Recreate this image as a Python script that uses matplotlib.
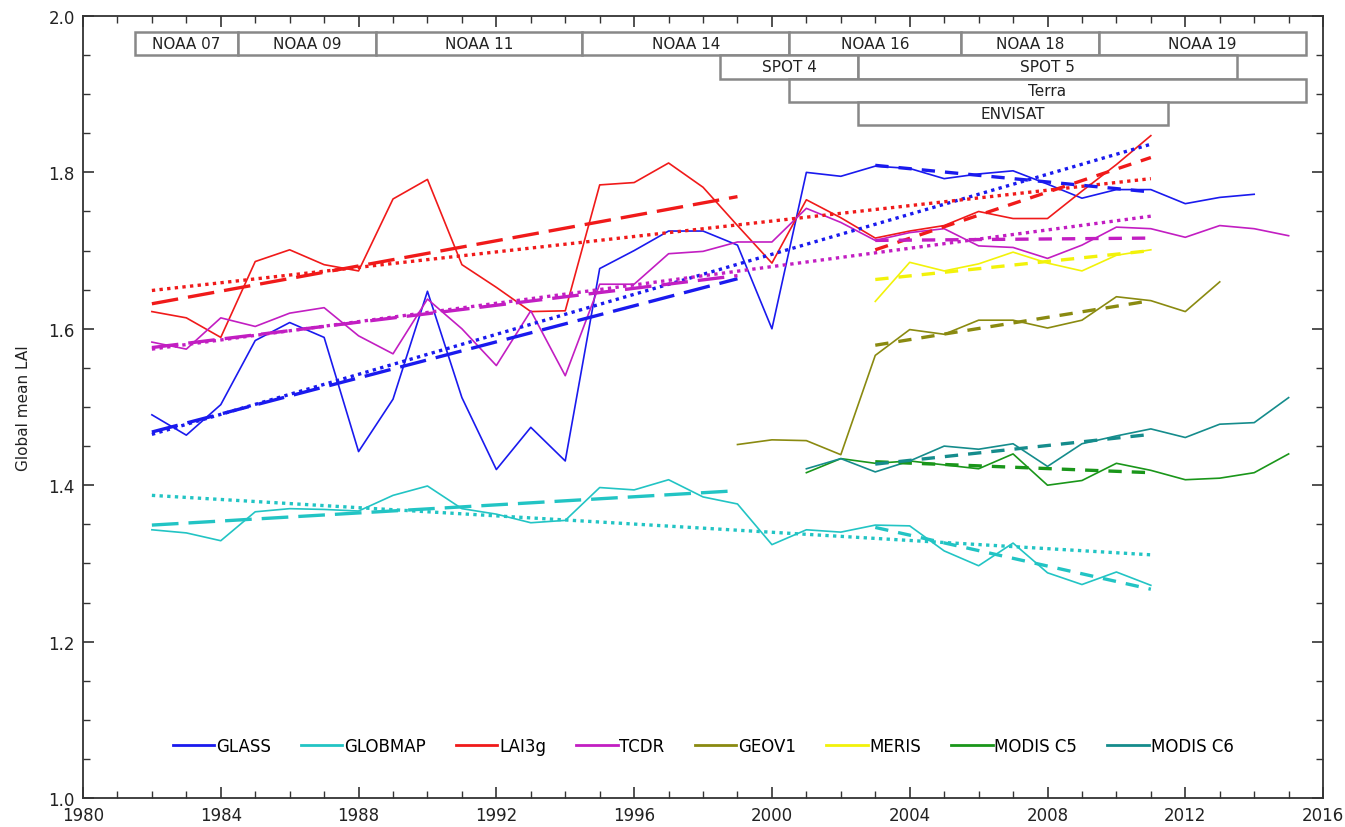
import numpy as np
import matplotlib
matplotlib.use('Agg')
import matplotlib.pyplot as plt
from matplotlib.patches import Rectangle

# yearly global mean LAI per product
glass_years = np.arange(1982, 2015)
glass = [1.490, 1.464, 1.503, 1.585, 1.608, 1.589, 1.443, 1.510, 1.648, 1.512,
         1.420, 1.474, 1.431, 1.677, 1.700, 1.725, 1.725, 1.707, 1.600, 1.800,
         1.795, 1.808, 1.805, 1.792, 1.798, 1.802, 1.785, 1.767, 1.778, 1.778,
         1.760, 1.768, 1.772]

globmap_years = np.arange(1982, 2012)
globmap = [1.343, 1.339, 1.329, 1.366, 1.370, 1.369, 1.367, 1.387, 1.399, 1.370,
           1.363, 1.352, 1.355, 1.397, 1.394, 1.407, 1.385, 1.376, 1.324, 1.343,
           1.340, 1.349, 1.348, 1.316, 1.297, 1.326, 1.288, 1.273, 1.289, 1.272]

lai3g_years = np.arange(1982, 2012)
lai3g = [1.622, 1.614, 1.589, 1.686, 1.701, 1.682, 1.674, 1.766, 1.791, 1.682,
         1.653, 1.622, 1.623, 1.784, 1.787, 1.812, 1.781, 1.732, 1.684, 1.765,
         1.742, 1.716, 1.725, 1.732, 1.750, 1.741, 1.741, 1.776, 1.810, 1.847]

tcdr_years = np.arange(1982, 2016)
tcdr = [1.583, 1.574, 1.614, 1.603, 1.620, 1.627, 1.591, 1.568, 1.638, 1.600,
        1.553, 1.623, 1.540, 1.657, 1.657, 1.696, 1.699, 1.711, 1.711, 1.754,
        1.736, 1.713, 1.723, 1.728, 1.706, 1.704, 1.690, 1.707, 1.730, 1.728,
        1.717, 1.732, 1.728, 1.719]

geov1_years = np.arange(1999, 2014)
geov1 = [1.452, 1.458, 1.457, 1.439, 1.566, 1.599, 1.593, 1.611, 1.611, 1.601,
         1.611, 1.641, 1.636, 1.622, 1.660]

meris_years = np.arange(2003, 2012)
meris = [1.635, 1.685, 1.674, 1.683, 1.698, 1.684, 1.674, 1.694, 1.701]

modis5_years = np.arange(2001, 2016)
modis5 = [1.416, 1.434, 1.428, 1.431, 1.426, 1.421, 1.440, 1.400, 1.406, 1.428,
          1.419, 1.407, 1.409, 1.416, 1.440]

modis6_years = np.arange(2001, 2016)
modis6 = [1.421, 1.434, 1.417, 1.431, 1.450, 1.446, 1.453, 1.424, 1.453, 1.463,
          1.472, 1.461, 1.478, 1.480, 1.512]

names = ['GLASS', 'GLOBMAP', 'LAI3g', 'TCDR', 'GEOV1', 'MERIS', 'MODIS C5', 'MODIS C6']
colors = ['#1a1aee', '#22c4c4', '#f01a1a', '#c21ec2', '#8a8a10', '#f2f20a', '#1a961a', '#158c8c']
series_years = [glass_years, globmap_years, lai3g_years, tcdr_years,
                geov1_years, meris_years, modis5_years, modis6_years]
series_vals = [glass, globmap, lai3g, tcdr, geov1, meris, modis5, modis6]

# linear trends: product, first year, last year, start value, end value, style
trend_names = ['GLASS', 'GLOBMAP', 'LAI3g', 'TCDR',
               'GLASS', 'GLOBMAP', 'LAI3g', 'TCDR',
               'GLASS', 'GLOBMAP', 'LAI3g', 'TCDR', 'GEOV1', 'MERIS', 'MODIS C5', 'MODIS C6']
trend_y0 = [1982] * 4 + [1982] * 4 + [2003] * 8
trend_y1 = [2011] * 4 + [1999] * 4 + [2011] * 8
trend_v0 = [1.465, 1.387, 1.649, 1.574,
            1.468, 1.349, 1.632, 1.576,
            1.809, 1.346, 1.701, 1.713, 1.579, 1.663, 1.430, 1.427]
trend_v1 = [1.836, 1.311, 1.792, 1.744,
            1.664, 1.393, 1.769, 1.668,
            1.775, 1.267, 1.819, 1.716, 1.636, 1.700, 1.416, 1.465]
trend_kind = ['dot'] * 4 + ['long'] * 4 + ['short'] * 8

# satellite periods shown as boxes on top
sat_names = ['NOAA 07', 'NOAA 09', 'NOAA 11', 'NOAA 14', 'NOAA 16', 'NOAA 18', 'NOAA 19',
             'SPOT 4', 'SPOT 5', 'Terra', 'ENVISAT']
sat_start = [1981.5, 1984.5, 1988.5, 1994.5, 2000.5, 2005.5, 2009.5, 1998.5, 2002.5, 2000.5, 2002.5]
sat_end = [1984.5, 1988.5, 1994.5, 2000.5, 2005.5, 2009.5, 2015.5, 2002.5, 2013.5, 2015.5, 2011.5]
sat_row = [0, 0, 0, 0, 0, 0, 0, 1, 1, 2, 3]

fig = plt.figure(figsize=(13.45, 8.28), dpi=100)
ax = fig.add_axes([0.0617, 0.035, 0.922, 0.9445])

for yrs, vals, c, n in zip(series_years, series_vals, colors, names):
    ax.plot(yrs, vals, color=c, lw=1.2, label=n)

dash_styles = {'dot': (0, (1, 1.3)), 'long': (0, (8, 3)), 'short': (0, (4, 3))}
for n, x0, x1, v0, v1, k in zip(trend_names, trend_y0, trend_y1, trend_v0, trend_v1, trend_kind):
    c = colors[names.index(n)]
    ax.plot([x0, x1], [v0, v1], color=c, lw=2.4, linestyle=dash_styles[k])

# boxes of satellite periods
row_h = 0.03
for s, a, b, r in zip(sat_names, sat_start, sat_end, sat_row):
    top = 1.98 - r * row_h
    ax.add_patch(Rectangle((a, top - row_h), b - a, row_h, facecolor='white',
                           edgecolor='#888888', lw=1.8, zorder=3))
    ax.text((a + b) / 2, top - row_h / 2, s, ha='center', va='center',
            fontsize=11, color='#222222', zorder=4)

ax.set_xlim(1980, 2016)
ax.set_ylim(1.0, 2.0)
ax.set_xticks(np.arange(1980, 2017, 4))
ax.set_xticks(np.arange(1980, 2017, 1), minor=True)
ax.set_yticks(np.arange(1.0, 2.01, 0.2))
ax.set_yticks(np.arange(1.0, 2.01, 0.05), minor=True)
ax.set_yticklabels(['%.1f' % v for v in np.arange(1.0, 2.01, 0.2)])
ax.tick_params(which='both', direction='in', top=True, right=True,
               colors='#333333', labelsize=12, labelcolor='#222222')
ax.tick_params(which='major', length=8, width=1.2)
ax.tick_params(which='minor', length=5, width=1.0)
ax.tick_params(axis='x', pad=6)
ax.tick_params(axis='y', pad=6)
for sp in ax.spines.values():
    sp.set_color('#333333')
    sp.set_linewidth(1.3)

ax.set_ylabel('Global mean LAI', fontsize=11, color='#222222', labelpad=12)

leg = ax.legend(loc='center', bbox_to_anchor=(0.5, 0.067), ncol=8, frameon=False,
                fontsize=12, handlelength=2.5, handletextpad=0.1, columnspacing=1.8)
for h in leg.get_lines():
    h.set_linewidth(2.0)

fig.savefig('out.png', dpi=100)
